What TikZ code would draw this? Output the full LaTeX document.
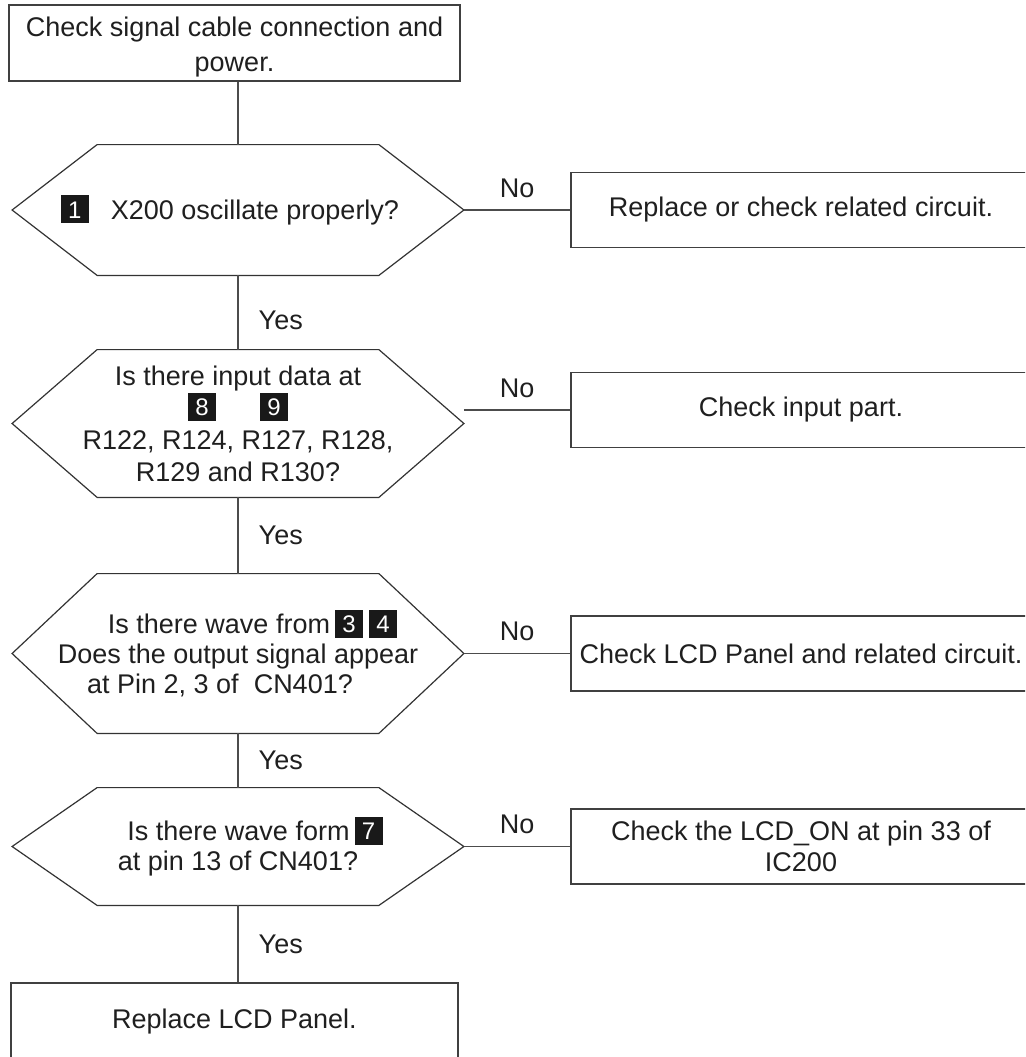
\documentclass[tikz,border=0pt]{standalone}
\usepackage{fontspec}
\setmainfont{Liberation Sans}
\usetikzlibrary{positioning}

% black square with a white number
\newcommand{\badge}[1]{{\setlength{\fboxsep}{0pt}\raisebox{-2pt}{\colorbox{black!90}{\makebox[14pt]{\rule{0pt}{14pt}\raisebox{2.6pt}{\color{white}\fontsize{12}{12}\selectfont #1}}}}}}

\begin{document}
\begin{tikzpicture}[x=0.5pt, y=-0.5pt,
        every node/.style = {font=\fontsize{13.5}{15}\selectfont, text=black!88},
        box/.style = {rectangle, draw=black!75, line width=0.7pt, align=center, inner sep=0pt},
        quest/.style = {rectangle, align=center, inner sep=0pt, minimum width=225.5pt},
        hexline/.style = {draw=black!80, line width=0.6pt},
        link/.style = {draw=black!70, line width=0.7pt},
        yes/.style = {right=10pt, inner sep=0pt},
        no/.style = {above=6pt, inner sep=0pt}
    ]
        \useasboundingbox (0,0) rectangle (1025,1057);
        \clip (0,0) rectangle (1025,1057);

        % Start
        \node[box, minimum width=225.5pt, minimum height=38pt, font=\fontsize{13.5}{17.5}\selectfont] (start) at (234.5,43) {\rule{0pt}{14pt}Check signal cable connection and\\power.};

        % Questions (middle column)
        \node[quest, minimum height=65pt] (q1) at (238,210) {\badge{1}\hspace{11pt}X200 oscillate properly?\hspace*{8pt}};
        \node[quest, minimum height=73.5pt, font=\fontsize{13.5}{16}\selectfont] (q2) at (238,423.5) {Is there input data at\\\badge{8}\hspace{22pt}\badge{9}\\R122, R124, R127, R128,\\R129 and R130?};
        \node[quest, minimum height=79.5pt] (q3) at (238,653.5) {\hspace*{32.5pt}Is there wave from\hspace{2.5pt}\badge{3}\hspace{3pt}\badge{4}\hspace*{18pt}\\Does the output signal appear\hspace*{18pt}\\at Pin 2, 3 of~~CN401?\hspace*{18pt}};
        \node[quest, minimum height=58.5pt] (q4) at (238,846.5) {\hspace*{17pt}Is there wave form\hspace{2.5pt}\badge{7}\\at pin 13 of CN401?};

        \foreach \q in {q1,q2,q3,q4}
            \draw[hexline] (\q.west) -- ([xshift=42.5pt]\q.north west) -- ([xshift=-42.5pt]\q.north east) -- (\q.east) -- ([xshift=-42.5pt]\q.south east) -- ([xshift=42.5pt]\q.south west) -- cycle;

        % Actions (right column)
        \node[box, minimum width=230pt, minimum height=37.5pt] (b1) at (801,210) {Replace or check related circuit.};
        \node[box, minimum width=230pt, minimum height=37.5pt] (b2) at (801,410) {Check input part.};
        \node[box, minimum width=230pt, minimum height=37.5pt] (b3) at (801,653.5) {Check LCD Panel and related circuit.};
        \node[box, minimum width=230pt, minimum height=37.5pt, font=\fontsize{13.5}{15.5}\selectfont] (b4) at (801,846.5) {Check the LCD\_ON at pin 33 of\\IC200};

        % End
        \node[box, minimum width=223.5pt, minimum height=39pt] (fix) at (234.5,1022) {Replace LCD Panel.};

        % Yes path
        \draw[link] (start.south -| q1.north) -- (q1.north);
        \draw[link] (q1.south) -- node[yes, pos=0.6] {Yes} (q2.north);
        \draw[link] (q2.south) -- node[yes] {Yes} (q3.north);
        \draw[link] (q3.south) -- node[yes] {Yes} (q4.north);
        \draw[link] (q4.south) -- node[yes] {Yes} (q4.south |- fix.north);

        % No branches
        \draw[link] (q1.east) -- node[no] {No} (b1.west);
        \draw[link] (b2.west -| q2.east) -- node[no] {No} (b2.west);
        \draw[link] (q3.east) -- node[no] {No} (b3.west);
        \draw[link] (q4.east) -- node[no] {No} (b4.west);

    \end{tikzpicture}
\end{document}
